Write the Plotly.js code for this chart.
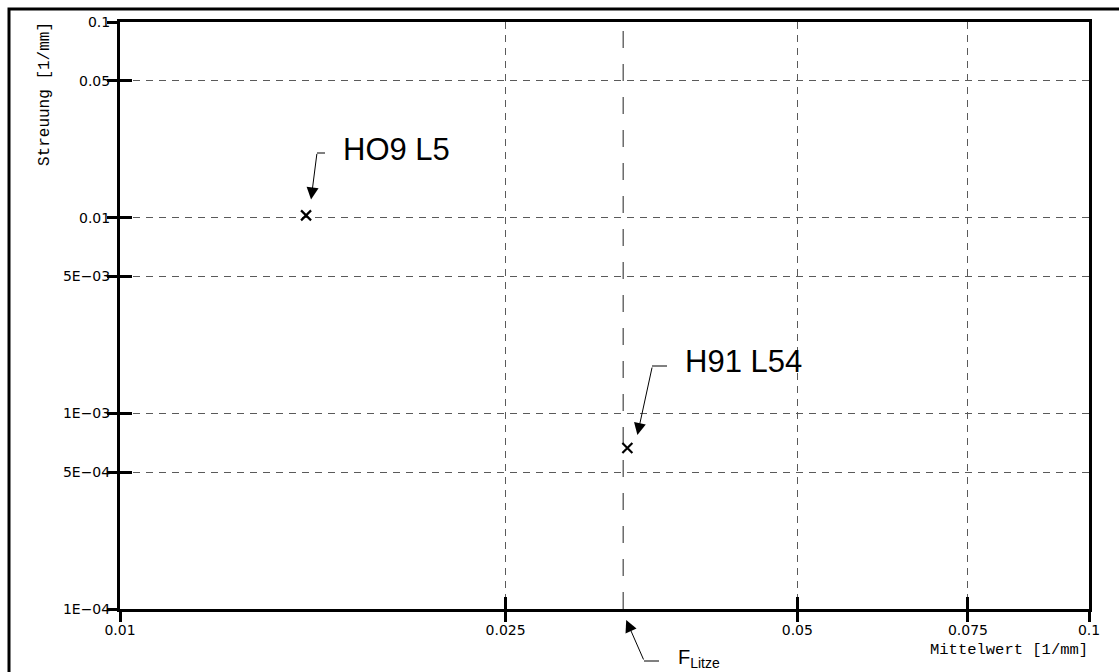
<!DOCTYPE html>
<html>
<head>
<meta charset="utf-8">
<script src="https://cdn.plot.ly/plotly-3.0.1.min.js"></script>
<style>
  html, body { margin: 0; padding: 0; background: #fff; }
  #chart { width: 1119px; height: 672px; }
</style>
</head>
<body>
<div id="chart"></div>
<script>
// Samples: mean value vs. scatter (both in 1/mm)
const sampleNames = ['HO9 L5', 'H91 L54'];
const meanValues = [0.01556, 0.03339];
const scatterValues = [0.01027, 0.000665];

// Reference mean of the strand (F_Litze)
const fLitze = 0.03306;

// Axis ticks
const xTickVals = [0.01, 0.025, 0.05, 0.075, 0.1];
const xTickText = ['0.01', '0.025', '0.05', '0.075', '0.1'];
const yTickVals = [0.0001, 0.0005, 0.001, 0.005, 0.01, 0.05, 0.1];
const yTickText = ['1E\u221204', '5E\u221204', '1E\u221203', '5E\u221203', '0.01', '0.05', '0.1'];

// Plot-area geometry in page pixels (used to place labels and leaders)
const L = 120, R = 1089, T = 22, B = 609;
const W = R - L, H = B - T;
const px = p => (p - L) / W;
const py = p => (B - p) / H;

const tickFont = { family: 'DejaVu Sans', size: 14, color: '#000' };
const bigFont = { family: 'Liberation Sans, Arial', size: 31, color: '#000' };

const traces = [
  {
    // F_Litze reference line
    x: [fLitze, fLitze],
    y: [yTickVals[0], yTickVals[yTickVals.length - 1]],
    mode: 'lines',
    line: { color: '#555', width: 1.3, dash: '17px,16px' },
    hoverinfo: 'skip',
    showlegend: false
  },
  {
    x: meanValues,
    y: scatterValues,
    text: sampleNames,
    mode: 'markers',
    marker: { symbol: 'x-thin', size: 10, color: '#000', line: { color: '#000', width: 2.2 } },
    showlegend: false
  },
  {
    // carrier for the second tick axes
    x: [0.01], y: [0.0001], xaxis: 'x2', yaxis: 'y2',
    mode: 'markers', marker: { opacity: 0 }, hoverinfo: 'skip', showlegend: false
  }
];

const baseX = {
  type: 'log', range: [-2, -1], tickmode: 'array',
  tickvals: xTickVals, ticktext: xTickText
};
const baseY = {
  type: 'log', range: [-4, -1], tickmode: 'array',
  tickvals: yTickVals, ticktext: yTickText
};

const layout = {
  width: 1119, height: 672,
  margin: { l: L, r: 1119 - R, t: T, b: 672 - B, pad: 0 },
  paper_bgcolor: '#fff', plot_bgcolor: '#fff',
  showlegend: false,
  xaxis: Object.assign({}, baseX, {
    showline: true, linecolor: '#000', linewidth: 3, mirror: true,
    ticks: 'inside', ticklen: 12, tickwidth: 3, tickcolor: '#000',
    showgrid: true, gridcolor: '#5a5a5a', gridwidth: 1, griddash: '7px,6px',
    zeroline: false, tickfont: tickFont, ticklabelstandoff: 6
  }),
  yaxis: Object.assign({}, baseY, {
    showline: true, linecolor: '#000', linewidth: 3, mirror: true,
    ticks: 'inside', ticklen: 12, tickwidth: 3, tickcolor: '#000',
    showgrid: true, gridcolor: '#5a5a5a', gridwidth: 1, griddash: '7px,6px',
    zeroline: false, tickfont: tickFont, ticklabelstandoff: 4
  }),
  xaxis2: Object.assign({}, baseX, {
    overlaying: 'x', anchor: 'y2', side: 'bottom',
    showline: false, showgrid: false, zeroline: false, showticklabels: false,
    ticks: 'outside', ticklen: 12, tickwidth: 3, tickcolor: '#000'
  }),
  yaxis2: Object.assign({}, baseY, {
    overlaying: 'y', anchor: 'x2', side: 'left',
    showline: false, showgrid: false, zeroline: false, showticklabels: false,
    ticks: 'outside', ticklen: 12, tickwidth: 3, tickcolor: '#000'
  }),
  shapes: [
    // drawing frame
    { type: 'rect', xref: 'paper', yref: 'paper',
      x0: px(9), x1: px(1250), y0: py(760), y1: py(9),
      line: { color: '#000', width: 3 }, fillcolor: 'rgba(0,0,0,0)' },
    // horizontal leader stubs
    { type: 'line', xref: 'paper', yref: 'paper', x0: px(317), x1: px(325), y0: py(153), y1: py(153),
      line: { color: '#000', width: 1 } },
    { type: 'line', xref: 'paper', yref: 'paper', x0: px(652), x1: px(667), y0: py(366), y1: py(366),
      line: { color: '#000', width: 1 } },
    { type: 'line', xref: 'paper', yref: 'paper', x0: px(644), x1: px(659), y0: py(661), y1: py(661),
      line: { color: '#000', width: 1 } }
  ],
  annotations: [
    // sample labels
    { xref: 'paper', yref: 'paper', x: px(341), y: py(150), xanchor: 'left', yanchor: 'middle',
      text: sampleNames[0], showarrow: false, font: bigFont },
    { xref: 'paper', yref: 'paper', x: px(683), y: py(361), xanchor: 'left', yanchor: 'middle',
      text: sampleNames[1], showarrow: false, font: bigFont },
    { xref: 'paper', yref: 'paper', x: px(676), y: py(658), xanchor: 'left', yanchor: 'middle',
      text: 'F<sub>Litze</sub>', showarrow: false, font: { family: 'Liberation Sans, Arial', size: 20, color: '#000' } },
    // leader arrows
    { xref: 'x', yref: 'y', x: Math.log10(meanValues[0]), y: Math.log10(scatterValues[0]),
      xshift: 5, yshift: 16, ax: 6, ay: -47, text: '', showarrow: true,
      arrowhead: 2, arrowsize: 2.4, arrowwidth: 1, arrowcolor: '#000', standoff: 0 },
    { xref: 'x', yref: 'y', x: Math.log10(meanValues[1]), y: Math.log10(scatterValues[1]),
      xshift: 10, yshift: 13, ax: 15, ay: -69, text: '', showarrow: true,
      arrowhead: 2, arrowsize: 2.4, arrowwidth: 1, arrowcolor: '#000', standoff: 0 },
    { xref: 'x', yref: 'paper', x: Math.log10(fLitze), y: 0,
      xshift: 3, yshift: -11, ax: 18, ay: 41, text: '', showarrow: true,
      arrowhead: 2, arrowsize: 2.4, arrowwidth: 1, arrowcolor: '#000', standoff: 0 },
    // axis titles
    { xref: 'paper', yref: 'paper', x: px(45), y: py(94), xanchor: 'center', yanchor: 'middle',
      text: 'Streuung [1/mm]', textangle: -90, showarrow: false,
      font: { family: 'Liberation Mono', size: 16, color: '#000' } },
    { xref: 'paper', yref: 'paper', x: px(1090), y: py(650), xanchor: 'right', yanchor: 'middle',
      text: 'Mittelwert [1/mm]', showarrow: false,
      font: { family: 'Liberation Mono', size: 15.5, color: '#000' } }
  ]
};

Plotly.newPlot('chart', traces, layout, { staticPlot: true, displayModeBar: false });
</script>
</body>
</html>
